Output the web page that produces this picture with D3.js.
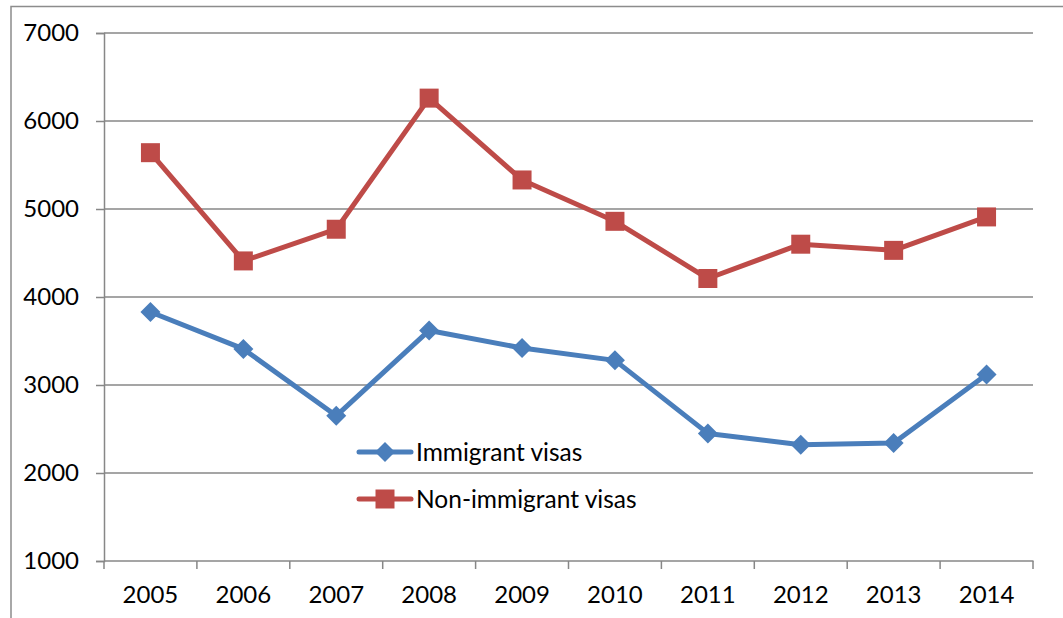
<!DOCTYPE html>
<html>
<head>
<meta charset="utf-8">
<script src="https://cdn.jsdelivr.net/npm/d3@7"></script>
<style>
  body { margin: 0; background: #fff; }
  text { font-family: Lato, "Open Sans", sans-serif; fill: #000; }
</style>
</head>
<body>
<script>
var years       = ['2005','2006','2007','2008','2009','2010','2011','2012','2013','2014'];
var immigrant   = [3830, 3410, 2650, 3620, 3420, 3280, 2450, 2320, 2340, 3120];
var nonImmigrant= [5640, 4410, 4770, 6260, 5330, 4860, 4210, 4600, 4530, 4910];
var yTicks      = [1000, 2000, 3000, 4000, 5000, 6000, 7000];
var seriesNames = ['Immigrant visas', 'Non-immigrant visas'];

var svg = d3.select('body').append('svg')
            .attr('width', 1063)
            .attr('height', 618);

// outer chart frame (cut off at right and bottom)
svg.append('path')
   .attr('d', 'M 11 620 L 11 6.5 L 1070 6.5')
   .attr('fill', 'none')
   .attr('stroke', '#8c8c8c')
   .attr('stroke-width', 1.5);

var x = d3.scaleBand().domain(years).range([104, 1033]);
var y = d3.scaleLinear().domain([1000, 7000]).range([561, 33]);

function cx(i){ return x(years[i]) + x.bandwidth()/2; }

// gridlines
svg.selectAll('line.grid').data(yTicks.slice(1)).enter().append('line')
   .attr('class','grid')
   .attr('x1', 104).attr('x2', 1033)
   .attr('y1', function(d){ return y(d); })
   .attr('y2', function(d){ return y(d); })
   .attr('stroke', '#878787')
   .attr('stroke-width', 1.5);

// y axis
var yAxis = svg.append('g')
   .attr('transform', 'translate(104,0)')
   .call(d3.axisLeft(y).tickValues(yTicks).tickSize(8).tickPadding(17).tickFormat(d3.format('d')));

// x axis
var xAxis = svg.append('g')
   .attr('transform', 'translate(0,561)')
   .call(d3.axisBottom(x).tickSize(0).tickPadding(25));

// x tick marks at band boundaries
svg.selectAll('line.xt').data(d3.range(years.length + 1)).enter().append('line')
   .attr('class','xt')
   .attr('x1', function(i){ return 104 + i * x.bandwidth(); })
   .attr('x2', function(i){ return 104 + i * x.bandwidth(); })
   .attr('y1', 561).attr('y2', 569)
   .attr('stroke', '#878787')
   .attr('stroke-width', 1.5);

[yAxis, xAxis].forEach(function(g){
  g.selectAll('path.domain').attr('stroke', '#878787').attr('stroke-width', 1.5);
  g.selectAll('.tick line').attr('stroke', '#878787').attr('stroke-width', 1.5);
  g.selectAll('.tick text').style('font-size', '24px').style('font-family', 'Lato, "Open Sans", sans-serif').attr('fill', '#000');
});
xAxis.selectAll('path.domain').attr('d', 'M104.5,0H1033.5');

var line = d3.line()
   .x(function(d, i){ return cx(i); })
   .y(function(d){ return y(d); });

var blue = '#4a7ebb';
var red  = '#be4b48';

function drawSeries(values, color, marker){
  svg.append('path')
     .datum(values)
     .attr('d', line)
     .attr('fill', 'none')
     .attr('stroke', color)
     .attr('stroke-width', 5)
     .attr('stroke-linejoin', 'round');

  svg.selectAll(null).data(values).enter().append('path')
     .attr('d', marker)
     .attr('transform', function(d, i){ return 'translate(' + cx(i) + ',' + y(d) + ')'; })
     .attr('fill', color);
}

var diamond = 'M0,-10 L10,0 L0,10 L-10,0 Z';
var square  = 'M-9.5,-9.5 H9.5 V9.5 H-9.5 Z';

drawSeries(immigrant, blue, diamond);
drawSeries(nonImmigrant, red, square);

// legend
var legend = [
  { name: seriesNames[0], color: blue, marker: diamond, y: 452 },
  { name: seriesNames[1], color: red,  marker: square,  y: 499 }
];

legend.forEach(function(l){
  svg.append('line')
     .attr('x1', 359).attr('x2', 411)
     .attr('y1', l.y).attr('y2', l.y)
     .attr('stroke', l.color)
     .attr('stroke-width', 5)
     .attr('stroke-linecap', 'round');
  svg.append('path')
     .attr('d', l.marker)
     .attr('transform', 'translate(385,' + l.y + ')')
     .attr('fill', l.color);
  svg.append('text')
     .attr('x', 416).attr('y', l.y)
     .attr('dy', '0.35em')
     .style('font-size', '24.5px')
     .text(l.name);
});
</script>
</body>
</html>
